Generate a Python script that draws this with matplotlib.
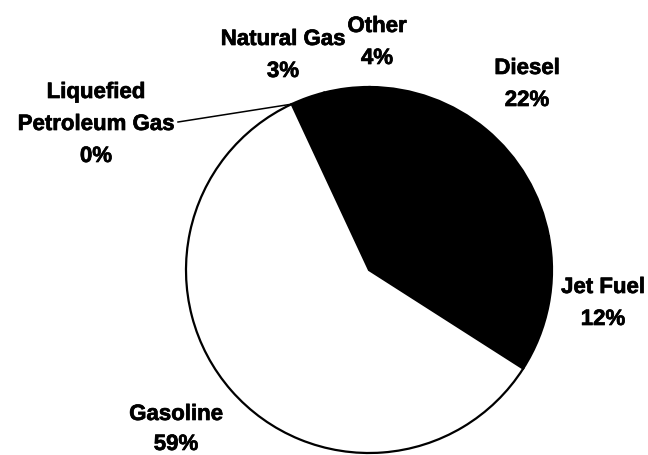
import matplotlib
matplotlib.use("Agg")
import matplotlib.pyplot as plt
import matplotlib.patheffects as pe
import numpy as np

# ---- data ----
categories = ["Liquefied\nPetroleum Gas", "Natural Gas", "Other", "Diesel", "Jet Fuel", "Gasoline"]
shares = [0, 3, 4, 22, 12, 59]
pct_labels = ["0%", "3%", "4%", "22%", "12%", "59%"]

# ---- style / layout ----
W, H = 648, 455
slice_colors = ["black", "black", "black", "black", "black", "white"]
# label anchor (x center, baseline of first line, line step) in pixel coords from top-left
label_pos = [(96, 98, 32), (283, 45, 32), (377, 32, 32), (527, 74, 32), (603, 293, 32), (176, 420, 30)]

plt.rcParams['font.family'] = ['Liberation Sans', 'DejaVu Sans']

fig = plt.figure(figsize=(W / 100, H / 100), dpi=100)
ax = fig.add_axes([0, 0, 1, 1])

cx, cy, r = 369, H - 270, 183
wedges, _ = ax.pie(shares, colors=slice_colors, startangle=115, counterclock=False,
                   center=(cx, cy), radius=r, frame=True,
                   wedgeprops=dict(edgecolor='black', linewidth=1.6))
ax.set_xlim(0, W)
ax.set_ylim(0, H)
ax.set_aspect('equal')
ax.axis('off')

stroke = [pe.withStroke(linewidth=0.5, foreground='black')]
for cat, pct, (x, yb, step) in zip(categories, pct_labels, label_pos):
    lines = cat.split("\n") + [pct]
    for i, ln in enumerate(lines):
        ax.text(x, H - (yb + i * step), ln, ha='center', va='baseline',
                fontsize=16, fontweight='bold', color='black', path_effects=stroke)

# leader line for the zero-share slice
w0 = wedges[0]
ang = np.deg2rad(w0.theta1)
px, py = cx + r * np.cos(ang), cy + r * np.sin(ang)
ax.plot([178, px], [H - 122, py], color='black', linewidth=1.1)

fig.savefig("out.png", dpi=100)
